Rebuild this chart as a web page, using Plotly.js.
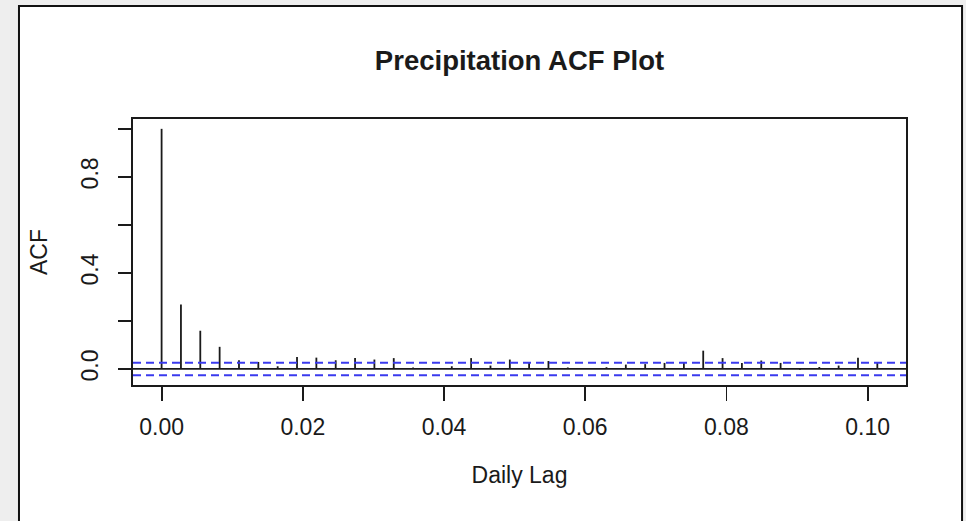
<!DOCTYPE html>
<html>
<head>
<meta charset="utf-8">
<script src="https://cdn.plot.ly/plotly-3.0.1.min.js"></script>
<style>
  html, body { margin: 0; padding: 0; background: #eeeeee; }
  #chart { width: 966px; height: 521px; }
</style>
</head>
<body>
<div id="chart"></div>
<script>
// Lags (in years, daily data: k/365)
const lags = [0.00000, 0.00274, 0.00548, 0.00822, 0.01096, 0.01370, 0.01644, 0.01918,
  0.02192, 0.02466, 0.02740, 0.03014, 0.03288, 0.03562, 0.03836, 0.04110, 0.04384,
  0.04658, 0.04932, 0.05205, 0.05479, 0.05753, 0.06027, 0.06301, 0.06575, 0.06849,
  0.07123, 0.07397, 0.07671, 0.07945, 0.08219, 0.08493, 0.08767, 0.09041, 0.09315,
  0.09589, 0.09863, 0.10137];
// Autocorrelation values
const acfValues = [1.000, 0.268, 0.159, 0.092, 0.036, 0.029, 0.011, 0.050,
  0.047, 0.036, 0.045, 0.039, 0.045, 0.006, 0.003, 0.011, 0.045,
  0.014, 0.039, 0.025, 0.033, 0.006, 0.002, 0.007, 0.018, 0.020,
  0.025, 0.028, 0.076, 0.045, 0.025, 0.035, 0.025, -0.003, 0.008,
  0.014, 0.047, 0.028];
// Confidence bound
const ciBound = 0.026;
// Tick labels
const xTickVals = [0.00, 0.02, 0.04, 0.06, 0.08, 0.10];
const xTickText = ["0.00", "0.02", "0.04", "0.06", "0.08", "0.10"];
const yTickVals = [0.0, 0.2, 0.4, 0.6, 0.8, 1.0];
const yTickText = ["0.0", "", "0.4", "", "0.8", ""];

// Build spike segments (vertical lines from 0 to acf)
const spikeX = [], spikeY = [];
lags.forEach((lag, i) => {
  spikeX.push(lag, lag, null);
  spikeY.push(0, acfValues[i], null);
});

const FONT = "Liberation Sans, Arial, Helvetica, sans-serif";
const INK = "#1a1a1a";

const traces = [{
  type: "scatter",
  mode: "lines",
  x: spikeX,
  y: spikeY,
  line: { color: INK, width: 1.8 },
  hoverinfo: "skip",
  showlegend: false
}];

const layout = {
  width: 966,
  height: 521,
  paper_bgcolor: "#eeeeee",
  plot_bgcolor: "#ffffff",
  margin: { l: 133, r: 60, t: 119, b: 136 },
  showlegend: false,
  font: { family: FONT, color: INK, size: 23 },
  title: {
    text: "<b>Precipitation ACF Plot</b>",
    font: { family: FONT, size: 27.5, color: INK },
    x: 0.5, xref: "paper", xanchor: "center",
    y: 1 - 60 / 521, yref: "container", yanchor: "middle"
  },
  xaxis: {
    range: [-0.00405, 0.10543],
    tickvals: xTickVals,
    ticktext: xTickText,
    ticks: "outside",
    ticklen: 14,
    tickwidth: 1.8,
    tickcolor: INK,
    showgrid: false,
    zeroline: false,
    showline: true,
    mirror: true,
    linecolor: INK,
    linewidth: 1.8,
    tickfont: { family: FONT, size: 23, color: INK },
    ticklabelstandoff: 7,
    title: { text: "Daily Lag", font: { family: FONT, size: 23, color: INK }, standoff: 27 },
    automargin: false
  },
  yaxis: {
    range: [-0.067, 1.041],
    tickvals: yTickVals,
    ticktext: yTickText,
    tickangle: -90,
    ticks: "outside",
    ticklen: 13,
    tickwidth: 1.8,
    tickcolor: INK,
    showgrid: false,
    zeroline: false,
    showline: true,
    mirror: true,
    linecolor: INK,
    linewidth: 1.8,
    tickfont: { family: FONT, size: 23, color: INK },
    ticklabelstandoff: 11,
    title: { text: "ACF", font: { family: FONT, size: 23, color: INK }, standoff: 23 },
    automargin: false
  },
  shapes: [
    // outer frame of the figure
    {
      type: "rect", xref: "paper", yref: "paper",
      x0: -0.1475, x1: 1.0725, y0: -0.6, y1: 1.4248,
      line: { color: "#111111", width: 2 },
      fillcolor: "#ffffff",
      layer: "below"
    },
    // zero line
    {
      type: "line", xref: "paper", yref: "y",
      x0: 0, x1: 1, y0: 0, y1: 0,
      line: { color: INK, width: 1.8 }
    },
    // upper confidence bound
    {
      type: "line", xref: "paper", yref: "y",
      x0: 0, x1: 1, y0: ciBound, y1: ciBound,
      line: { color: "#3a3aee", width: 2, dash: "8px,5px" }
    },
    // lower confidence bound
    {
      type: "line", xref: "paper", yref: "y",
      x0: 0, x1: 1, y0: -ciBound, y1: -ciBound,
      line: { color: "#3a3aee", width: 2, dash: "8px,5px" }
    }
  ]
};

Plotly.newPlot("chart", traces, layout, { staticPlot: true, displayModeBar: false });
</script>
</body>
</html>
